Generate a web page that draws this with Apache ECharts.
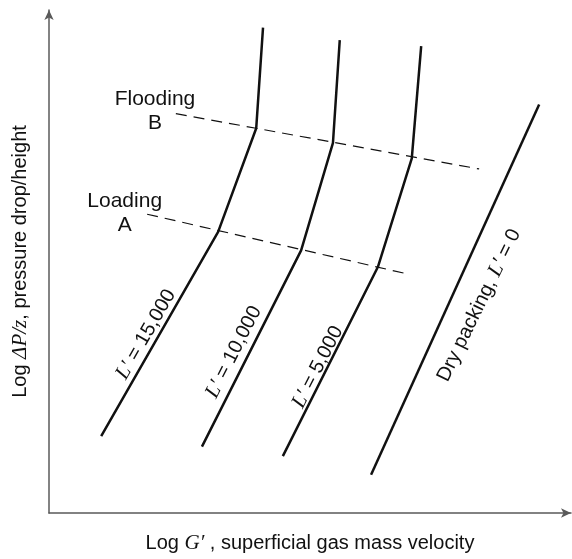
<!DOCTYPE html>
<html>
<head>
<meta charset="utf-8">
<script src="https://cdn.jsdelivr.net/npm/echarts@6/dist/echarts.min.js"></script>
<style>
  html, body { margin: 0; padding: 0; background: #fff; }
  #chart { width: 572px; height: 559px; }
</style>
</head>
<body>
<div id="chart"></div>
<script>
// 曲线数据（对数坐标下的相对值）
const curve15000 = [[1.00, 1.53], [3.24, 5.59], [3.97, 7.65], [4.10, 9.65]];
const curve10000 = [[2.93, 1.32], [4.83, 5.22], [5.44, 7.36], [5.57, 9.40]];
const curve5000 = [[4.48, 1.13], [6.30, 4.89], [6.95, 7.05], [7.13, 9.28]];
const curveDry = [[6.17, 0.76], [9.39, 8.12]];
const floodingLine = [[2.43, 7.94], [8.24, 6.84]];
const loadingLine = [[1.88, 5.94], [6.92, 4.74]];

// 标注文字位置与角度
const curveLabels = [
    { name: '{i|L′} = 15,000', pos: [1.86, 3.55], angle: 60 },
    { name: '{i|L′} = 10,000', pos: [3.54, 3.20], angle: 63 },
    { name: '{i|L′} = 5,000', pos: [5.15, 2.90], angle: 63 },
    { name: 'Dry packing, {i|L′} = 0', pos: [8.24, 4.13], angle: 64 }
];
const pointLabels = [
    { name: 'Flooding\nB', pos: [2.03, 7.98] },
    { name: 'Loading\nA', pos: [1.45, 5.96] }
];

const chart = echarts.init(document.getElementById('chart'));

const ink = '#111';
const rich = {
    i: { fontFamily: 'Liberation Serif', fontStyle: 'italic', fontSize: 21, color: ink }
};

function solid(data) {
    return {
        type: 'line', data: data, symbol: 'none', silent: true,
        lineStyle: { color: ink, width: 2.5 }
    };
}

function dashed(data) {
    return {
        type: 'line', data: data, symbol: 'none', silent: true,
        lineStyle: { color: ink, width: 1.2, type: [11, 7] }
    };
}

const labelSeries = curveLabels.map(item => ({
    type: 'scatter', symbolSize: 0, silent: true,
    itemStyle: { opacity: 1 },
    data: [item.pos],
    label: {
        show: true, position: 'inside', rotate: item.angle,
        formatter: item.name,
        fontFamily: 'Liberation Sans', fontSize: 20, color: ink,
        rich: rich
    }
}));

const textSeries = {
    type: 'scatter', symbolSize: 0, silent: true,
    itemStyle: { opacity: 1 },
    data: pointLabels.map(p => ({ value: p.pos, name: p.name })),
    label: {
        show: true, position: 'inside', formatter: '{b}',
        fontFamily: 'Liberation Sans', fontSize: 21, color: ink,
        align: 'center', lineHeight: 24
    }
};

chart.setOption({
    animation: false,
    grid: { left: 49, right: 1, top: 10, bottom: 34 },
    xAxis: {
        type: 'value', min: 0, max: 10,
        axisLine: { lineStyle: { color: '#5a5a5a', width: 1.5 }, symbol: ['none', 'arrow'], symbolSize: [7, 10] },
        axisTick: { show: false }, axisLabel: { show: false }, splitLine: { show: false },
        name: 'Log {i|G′} , superficial gas mass velocity',
        nameLocation: 'middle', nameGap: 20,
        nameTextStyle: { fontFamily: 'Liberation Sans', fontSize: 20, color: ink, rich: rich }
    },
    yAxis: {
        type: 'value', min: 0, max: 10,
        axisLine: { lineStyle: { color: '#5a5a5a', width: 1.5 }, symbol: ['none', 'arrow'], symbolSize: [7, 10] },
        axisTick: { show: false }, axisLabel: { show: false }, splitLine: { show: false },
        name: 'Log {i|ΔP/z}, pressure drop/height',
        nameLocation: 'middle', nameGap: 18,
        nameTextStyle: { fontFamily: 'Liberation Sans', fontSize: 20, color: ink, rich: rich }
    },
    series: [
        solid(curve15000), solid(curve10000), solid(curve5000), solid(curveDry),
        dashed(floodingLine), dashed(loadingLine),
        textSeries
    ].concat(labelSeries)
});

window.addEventListener('resize', function() {
    chart.resize();
});
</script>
</body>
</html>
